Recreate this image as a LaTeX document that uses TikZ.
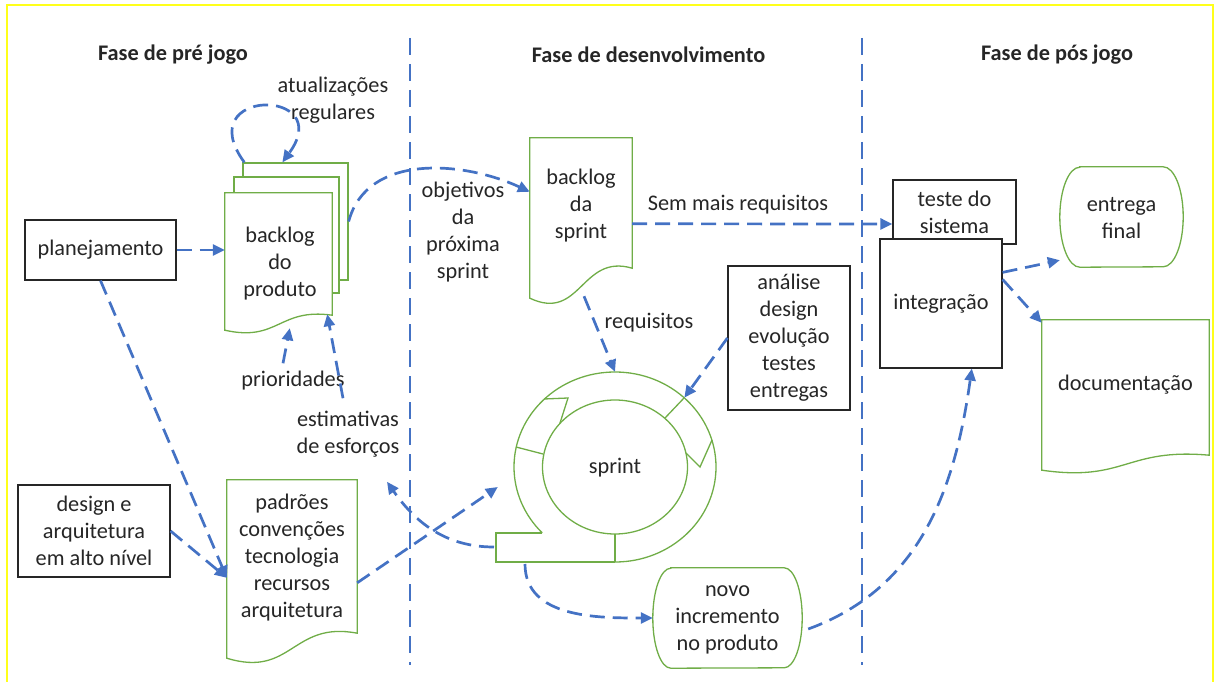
\documentclass[tikz,border=0pt]{standalone}
\usepackage{fontspec}
\setmainfont{Carlito}
\usetikzlibrary{arrows.meta,calc,shapes.geometric}

\definecolor{lnblue}{HTML}{4472C4}
\definecolor{shgreen}{HTML}{70AD47}
\definecolor{ink}{HTML}{262626}
\definecolor{frameyellow}{HTML}{FFFF1A}

\newcommand{\diafont}{\fontsize{22.3}{27}\selectfont}

% document sheet with a wavy lower edge; #2 = how far the right end rises
\newcommand{\docoutline}[2]{%
  \draw[docline] (#1.south west) -- (#1.north west) -- (#1.north east)
    -- ($(#1.south east)+(0,-#2)$)
    .. controls ($(#1.south west)!0.5!(#1.south east)+(0,-1.5*#2)$)
    and ($(#1.south west)!0.5!(#1.south east)+(0,0.8*#2)$) .. (#1.south west) -- cycle;}

% flat top and bottom, rounded sides; #2 = side bulge, #3 = half height
\newcommand{\stadium}[3]{%
  \draw[docline] ($(#1.north west)+(#2,0)$) -- ($(#1.north east)+(-#2,0)$)
    arc[start angle=-90,end angle=90,x radius=#2,y radius=#3]
    -- ($(#1.south west)+(#2,0)$)
    arc[start angle=90,end angle=270,x radius=#2,y radius=#3] -- cycle;}

\tikzset{
  every node/.style={text=ink},
  txt/.style={align=center, inner sep=0pt, font=\diafont},
  hdr/.style={inner sep=0pt, font=\diafont\bfseries},
  blackbox/.style={draw=ink, line width=1.2pt, fill=white, inner sep=0pt,
                   align=center, font=\diafont},
  sheet/.style={draw=shgreen, line width=1.3pt, fill=white, inner sep=0pt},
  holder/.style={inner sep=0pt},
  docline/.style={draw=shgreen, line width=1.3pt, fill=white},
  ringline/.style={draw=shgreen, line width=1.3pt},
  conn/.style={draw=lnblue, line width=2.7pt, dash pattern=on 15pt off 8pt,
               -{Triangle[length=12pt,width=11pt]}},
  phase/.style={draw=lnblue, line width=2.7pt, dash pattern=on 17pt off 9pt},
}

\begin{document}
\begin{tikzpicture}[x=1pt,y=-1pt]
\useasboundingbox (0,0) rectangle (1215,682);

% outer frame
\draw[frameyellow, line width=2pt] (7,684) -- (7,5) -- (1213,5) -- (1213,684);

% phase separators
\coordinate (sepAtop) at (410,38);
\coordinate (sepAbot) at (410,665);
\coordinate (sepBtop) at (862,38);
\coordinate (sepBbot) at (862,665);
\draw[phase] (sepAtop) -- (sepAbot);
\draw[phase] (sepBtop) -- (sepBbot);

% phase titles
\node[hdr] (h1) at (173,55) {Fase de pré jogo};
\node[hdr] (h2) at (648.5,55) {Fase de desenvolvimento};
\node[hdr] (h3) at (1057,55) {Fase de pós jogo};

% ---- pre-game phase
\node[blackbox, minimum width=151pt, minimum height=60pt] (plan) at (100.5,250) {planejamento};
\node[blackbox, minimum width=152pt, minimum height=92pt] (design) at (94,531)
  {design e\\arquitetura\\em alto nível};

% product backlog: stack of sheets
\node[sheet, minimum width=105pt, minimum height=117pt] (bk3) at (295.5,221.5) {};
\node[sheet, minimum width=105pt, minimum height=116pt] (bk2) at (286.5,235) {};
\node[holder, minimum width=107pt, minimum height=137pt] (bk1) at (278.5,261.5) {};
\docoutline{bk1}{15}
\node[txt] (bk1t) at (280,264) {backlog\\do\\produto};

\node[txt] (upd) at (333,100) {atualizações\\regulares};
\draw[conn] ($(bk3.north west)+(2,0)$) .. controls +(-55,-75) and +(55,-75) .. ($(bk3.north west)+(40,0)$);

\node[txt] (prio) at (293,381) {prioridades};
\node[txt] (est) at (348,434.5) {estimativas\\de esforços};

% standards sheet
\node[holder, minimum width=130pt, minimum height=178pt] (pad) at (292,569) {};
\docoutline{pad}{25}
\node[txt] (padt) at (292,558) {padrões\\convenções\\tecnologia\\recursos\\arquitetura};

% ---- development phase
\node[holder, minimum width=102pt, minimum height=160pt] (sbl) at (581,218) {};
\docoutline{sbl}{30}
\node[txt] (sblt) at (581,206) {backlog\\da\\sprint};

\node[txt] (goal) at (463,232.5) {objetivos\\da\\próxima\\sprint};
\node[txt] (nomore) at (738,205) {Sem mais requisitos};
\node[txt] (req) at (649,323) {requisitos};

\node[blackbox, minimum width=122pt, minimum height=144pt] (anal) at (789,338)
  {análise\\design\\evolução\\testes\\entregas};

% sprint cycle
\node[holder, ellipse, minimum width=202pt, minimum height=190pt] (sprint) at (615,467) {};
\begin{scope}[shift={(sprint.center)}]
  \draw[ringline] (0,95) arc[start angle=90, end angle=-223.9, x radius=101, y radius=95];
  \draw[ringline] (0,0) ellipse [x radius=72.5, y radius=67];
  \draw[ringline] (-73,66) -- (-119,66) -- (-119,95) -- (0,95);
  \draw[ringline] (0,67) -- (0,95);
  \draw[ringline] (-99,-20) -- (-72,-13);
  \draw[ringline, line join=miter] (-71,-68) -- (-47,-69) -- (-55,-44);
  \draw[ringline] (69,-69) -- (50,-49);
  \draw[ringline, line join=miter] (97,-27) -- (85,0) -- (71,-14);
\end{scope}
\node[txt] (sprintt) at (615,468) {sprint};

\node[holder, minimum width=149pt, minimum height=100pt] (novo) at (727.5,618) {};
\stadium{novo}{18}{50}
\node[txt] (novot) at (727.5,620) {novo\\incremento\\no produto};

% ---- post-game phase
\node[blackbox, minimum width=123pt, minimum height=64pt] (teste) at (954.5,212) {teste do\\sistema};
\node[blackbox, minimum width=122pt, minimum height=129pt] (integ) at (941,303.5) {integração};

\node[holder, minimum width=123pt, minimum height=100pt] (ent) at (1121.5,217) {};
\stadium{ent}{20}{50}
\node[txt] (entt) at (1121.5,218.5) {entrega\\final};

\node[holder, minimum width=167pt, minimum height=150pt] (docu) at (1125.5,395) {};
\docoutline{docu}{15}
\node[txt] (docut) at (1125.5,385) {documentação};

% ---- connectors
\draw[conn] (plan.east) -- (plan.east -| bk1.west);
\draw[conn] (plan.south) -- ($(pad.north west)+(0,98)$);
\draw[conn] (design.east) -- ($(pad.north west)+(0,98)$);
\draw[conn] ($(prio.north)+(-10,-8)$) -- ($(bk1.south west)+(65,-2)$);
\draw[conn] ($(est.north)+(-5,-13)$) -- ($(bk1.south east)+(-5,-16)$);
\draw[conn] (bk3.east) to[out=75,in=155] ($(sbl.north west)+(0,54)$);
\draw[conn] ($(sbl.north east)+(0,86)$) -- ($(teste.west)+(0,12)$);
\draw[conn] ($(sbl.south)+(3,-2)$) -- (sprint.north);
\draw[conn] (anal.west) -- (sprint.45);
\draw[conn] ($(pad.north east)+(0,103)$) -- ($(sprint.west)+(-16,20)$);
\draw[conn] ($(sprint.center)+(-121,80)$) to[out=180,in=-55] ($(est.south)+(39,24)$);
\draw[conn] ($(sprint.center)+(-90,97)$) to[out=-90,in=180] (novo.west);
\draw[conn] ($(novo.east)+(6,11)$) to[out=20,in=-98] ($(integ.south)!0.5!(integ.south east)$);
\draw[conn] ($(integ.north east)+(0,34)$) -- ($(ent.south west)+(0,-7)$);
\draw[conn] ($(integ.north east)+(0,41)$) -- ($(docu.north west)+(0,3)$);
\end{tikzpicture}
\end{document}
